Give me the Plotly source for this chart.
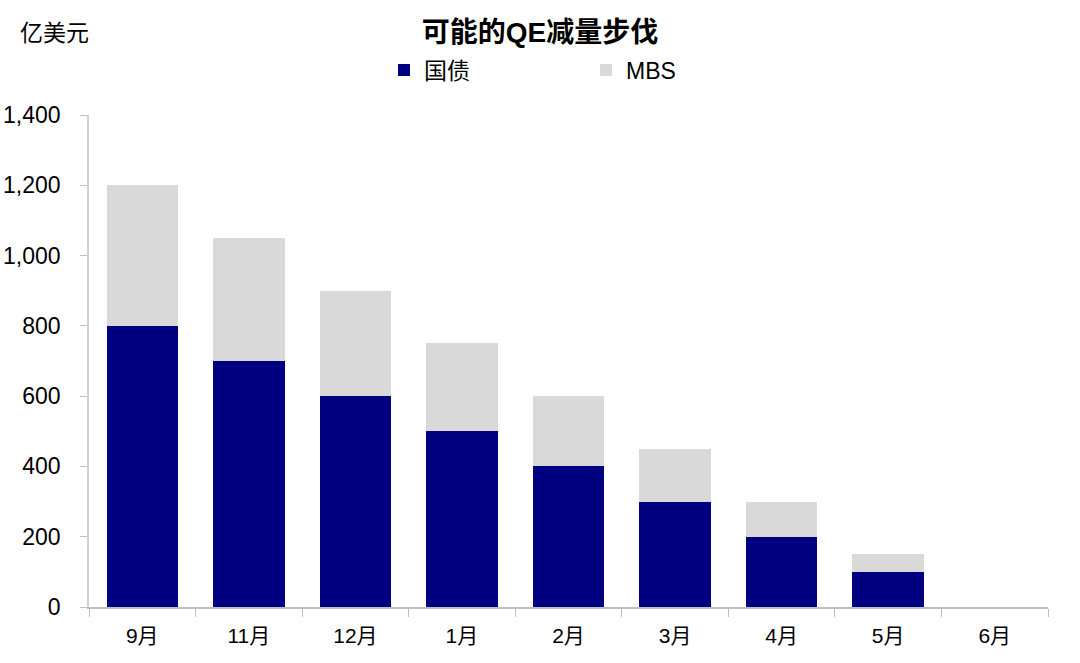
import plotly.graph_objects as go

categories = ["9月", "11月", "12月", "1月", "2月", "3月", "4月", "5月", "6月"]
treasury = [800, 700, 600, 500, 400, 300, 200, 100, 0]
mbs = [400, 350, 300, 250, 200, 150, 100, 50, 0]
y_ticks = [0, 200, 400, 600, 800, 1000, 1200, 1400]
y_tick_labels = ["0", "200", "400", "600", "800", "1,000", "1,200", "1,400"]

FONT = "Liberation Sans, Arial, Noto Sans CJK SC, sans-serif"

fig = go.Figure()
fig.add_bar(x=categories, y=treasury, name="国债", marker=dict(color="#000080", line=dict(width=0)))
fig.add_bar(x=categories, y=mbs, name="MBS", marker=dict(color="#D9D9D9", line=dict(width=0)))

fig.update_layout(
    barmode="stack",
    bargap=0.33,
    width=1080, height=663,
    margin=dict(l=89, r=32, t=115, b=56, autoexpand=False),
    paper_bgcolor="white", plot_bgcolor="white",
    font=dict(family=FONT, size=22, color="black"),
    title=dict(text="<b>可能的QE减量步伐</b>", x=0.5, xanchor="center", y=0.9517, yanchor="middle",
               font=dict(size=28, family=FONT, color="black")),
    legend=dict(orientation="h", x=0.3076, xanchor="left", y=1.0915, yanchor="middle",
                entrywidth=157, entrywidthmode="pixels", font=dict(size=23),
                itemwidth=30, traceorder="normal", bgcolor="rgba(0,0,0,0)"),
    showlegend=True,
)
fig.update_xaxes(showline=True, linecolor="#BFBFBF", linewidth=1.5, ticks="outside", tickson="boundaries",
                 ticklen=8, tickcolor="#BFBFBF", showgrid=False, tickfont=dict(size=21),
                 ticklabelstandoff=9, automargin=False)
fig.update_yaxes(range=[0, 1400], tickvals=y_ticks, ticktext=y_tick_labels, showline=True,
                 linecolor="#D0D0D0", linewidth=1.5, ticks="outside", ticklen=7, tickcolor="#BFBFBF",
                 showgrid=False, zeroline=False, tickfont=dict(size=23), ticklabelstandoff=15,
                 automargin=False)
fig.add_annotation(text="亿美元", xref="paper", yref="paper", x=-0.074, y=1.1667, xanchor="left",
                   yanchor="middle", showarrow=False, font=dict(size=23, family=FONT))

fig.write_html("out.html", config={"displayModeBar": False},
               post_script="document.body.style.margin='0';")
